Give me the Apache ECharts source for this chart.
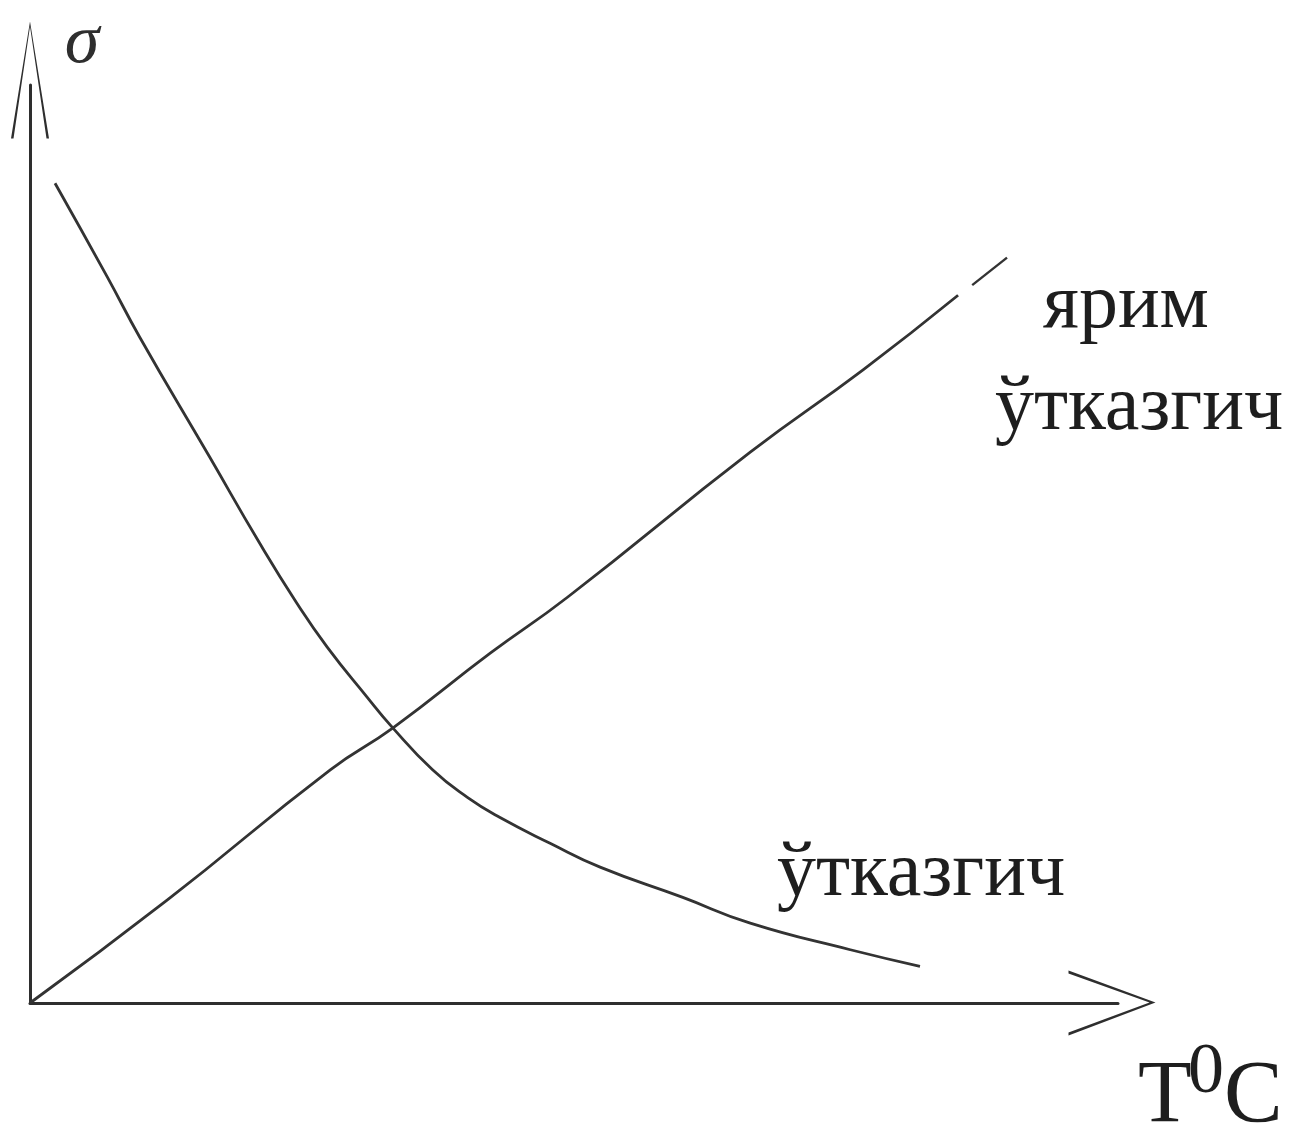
<!DOCTYPE html>
<html>
<head>
<meta charset="utf-8">
<script src="https://cdn.jsdelivr.net/npm/echarts@6/dist/echarts.min.js"></script>
<style>
html, body { margin: 0; padding: 0; background: #fff; }
#main { width: 1291px; height: 1132px; }
</style>
</head>
<body>
<div id="main"></div>
<script>
// conductor: sigma falls with temperature
var conductorT = [2.3, 7.1, 10.1, 16.5, 21.1, 24.5, 27.3, 31.0, 33.1, 37.0, 40.2, 43.2, 47.8, 52.4, 60.0, 66.2, 75.4, 81.8];
var conductorSigma = [89.3, 79.1, 72.5, 59.5, 50.1, 43.6, 38.8, 33.3, 30.3, 25.4, 22.4, 20.2, 17.4, 14.8, 11.5, 8.7, 5.8, 4.0];

// semiconductor: sigma grows with temperature
var semiT = [0, 12.6, 27.6, 33.4, 42.3, 49.4, 66.2, 76.6, 85.3];
var semiSigma = [0, 11.2, 25.4, 30.0, 38.1, 44.2, 60.0, 69.0, 77.1];
// short dash at the end of the semiconductor line
var semiTailT = [86.6, 89.8];
var semiTailSigma = [78.2, 81.2];

function zip(xs, ys) {
  return xs.map(function (x, i) { return [x, ys[i]]; });
}

var ink = '#2e2e2e';
var lineCol = '#333';
var serif = '"Liberation Serif", "DejaVu Serif", serif';

var chart = echarts.init(document.getElementById('main'), null, {renderer: 'canvas'});

var option = {
  backgroundColor: '#fff',
  animation: false,
  grid: {left: 30, right: 173, top: 85, bottom: 129, containLabel: false},
  xAxis: {
    type: 'value',
    min: 0,
    max: 100,
    axisLabel: {show: false},
    axisTick: {show: false},
    splitLine: {show: false},
    axisLine: {
      show: true,
      onZero: false,
      lineStyle: {color: ink, width: 3},
      symbol: ['none', 'path://M32 0 L65 87 L62 87 L32 6 L3 87 L0 87 Z'],
      symbolSize: [65, 87],
      symbolOffset: [0, -6]
    }
  },
  yAxis: {
    type: 'value',
    min: 0,
    max: 100,
    axisLabel: {show: false},
    axisTick: {show: false},
    splitLine: {show: false},
    axisLine: {
      show: true,
      onZero: false,
      lineStyle: {color: ink, width: 3},
      symbol: ['none', 'path://M19 0 L38 117 L35.5 117 L19 5 L2.5 117 L0 117 Z'],
      symbolSize: [38, 117],
      symbolOffset: [0, 5]
    }
  },
  series: [
    {
      name: 'ўтказгич',
      type: 'line',
      data: zip(conductorT, conductorSigma),
      smooth: 0.5,
      showSymbol: false,
      lineStyle: {color: lineCol, width: 2.8}
    },
    {
      name: 'ярим ўтказгич',
      type: 'line',
      data: zip(semiT, semiSigma),
      smooth: 0.5,
      showSymbol: false,
      lineStyle: {color: lineCol, width: 2.8}
    },
    {
      name: 'ярим ўтказгич (tail)',
      type: 'line',
      data: zip(semiTailT, semiTailSigma),
      showSymbol: false,
      lineStyle: {color: lineCol, width: 2.4}
    }
  ],
  graphic: [
    {type: 'text', x: 82, y: 44, style: {text: 'σ', font: 'italic 70px ' + serif, fill: ink, align: 'center', verticalAlign: 'middle'}},
    {type: 'text', x: 1043, y: 307, style: {text: 'ярим', font: '78px ' + serif, fill: '#1e1e1e', align: 'left', verticalAlign: 'middle'}},
    {type: 'text', x: 995, y: 409, style: {text: 'ўтказгич', font: '78px ' + serif, fill: '#1e1e1e', align: 'left', verticalAlign: 'middle'}},
    {type: 'text', x: 777, y: 875, style: {text: 'ўтказгич', font: '78px ' + serif, fill: '#1e1e1e', align: 'left', verticalAlign: 'middle'}},
    {type: 'text', x: 1138, y: 1098, style: {text: 'T', font: '88px ' + serif, fill: '#1e1e1e', align: 'left', verticalAlign: 'middle'}},
    {type: 'text', x: 1188, y: 1073, style: {text: '0', font: '72px ' + serif, fill: '#1e1e1e', align: 'left', verticalAlign: 'middle'}},
    {type: 'text', x: 1224, y: 1098, style: {text: 'C', font: '88px ' + serif, fill: '#1e1e1e', align: 'left', verticalAlign: 'middle'}}
  ]
};

chart.setOption(option);
</script>
</body>
</html>
